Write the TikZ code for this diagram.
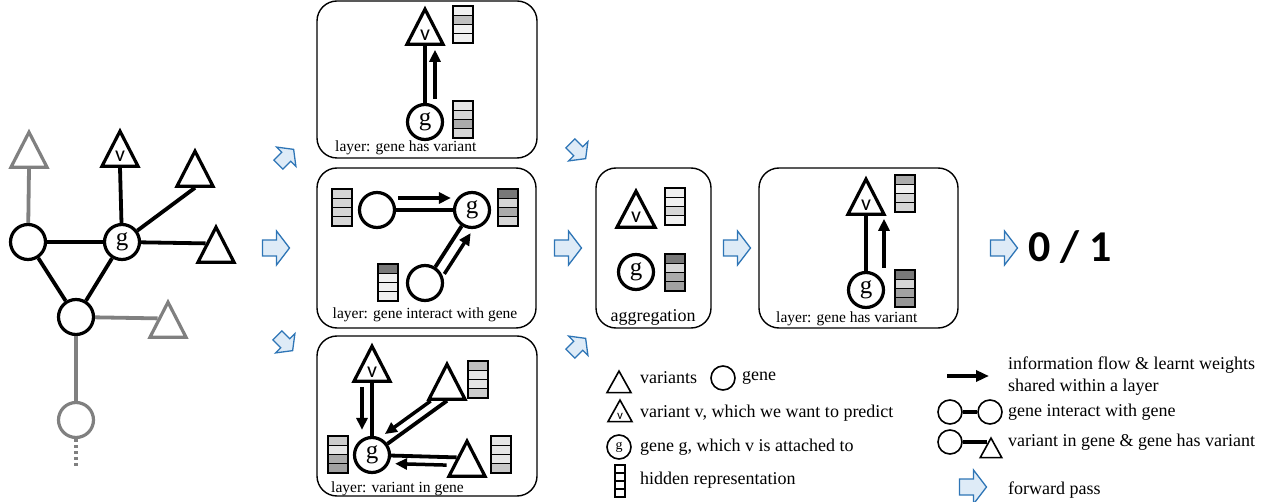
\documentclass[tikz,border=0pt]{standalone}
\usepackage{fontspec}
\setmainfont{Liberation Serif}
\newfontfamily\carlito{Carlito}
\usetikzlibrary{shapes, arrows.meta, calc}

\definecolor{fwdblue}{RGB}{46,117,182}
\definecolor{fwdfill}{RGB}{222,235,247}
\definecolor{linkgray}{RGB}{128,128,128}

\tikzset{
	gene/.style={circle,draw,line width=3.2pt,minimum size=35pt,inner sep=0pt,fill=white,font=\fontsize{25}{25}\selectfont},
	variant/.style={isosceles triangle,isosceles triangle stretches,shape border rotate=90,draw,line width=3.2pt,minimum width=36pt,minimum height=35pt,inner sep=0pt,anchor=apex},
	small/.style={line width=1.6pt,minimum size=20pt,minimum width=24pt,minimum height=21.5pt,font=\fontsize{14}{14}\selectfont},
	vtext/.style={font=\carlito\fontsize{22}{22}\selectfont,inner sep=0pt},
	glink/.style={line width=3.8pt},
	flow/.style={line width=3.5pt,-{Triangle[length=12pt,width=11pt]}},
	cell/.style={draw,line width=1.3pt},
	panel/.style={draw,line width=1.4pt,rounded corners=20pt},
	layer/.style={font=\fontsize{15.5}{15.5}\selectfont,inner sep=0pt},
	legend/.style={font=\fontsize{18}{22}\selectfont,inner sep=0pt,anchor=west,align=left},
	fwdline/.style={draw=fwdblue,fill=fwdfill,line width=1.3pt,line join=miter},
	fwd/.pic={\draw[fwdline] (-13.5,-8) -- (0.5,-8) -- (0.5,-17) -- (13.5,0) -- (0.5,17) -- (0.5,8) -- (-13.5,8) -- cycle;}
}

\newcommand{\hidden}[3]{%
	\foreach \c [count=\i from 0] in {#3}
		\draw[cell,fill=black!\c] (#1,{#2+9.25*\i}) rectangle ++(20,9.25);}

\begin{document}
\begin{tikzpicture}[x=1pt,y=-1pt]
		\useasboundingbox (0,0) rectangle (1276,502);

		% graph
		\node[variant,draw=linkgray] (ta) at (29,128) {};
		\node[variant] (tv) at (120,127) {};
		\node[vtext] (tvl) at ([yshift=12pt]tv.lower side) {v};
		\node[variant] (tb) at (195,147) {};
		\node[variant] (tc) at (216,223) {};
		\node[variant,draw=linkgray] (td) at (168,298) {};
		\node[gene] (c1) at (28,242) {};
		\node[gene] (g0) at (122,242) {g};
		\node[gene] (c2) at (76,317) {};
		\node[gene,draw=linkgray] (c3) at (76,420) {};
		\coordinate (c4) at (76,468);

		\draw[glink,linkgray] (ta.lower side) -- (c1);
		\draw[glink] (tv.lower side) -- (g0);
		\draw[glink] (tb.lower side) -- (g0);
		\draw[glink] (g0) -- (tc.left side);
		\draw[glink] (c1) -- (g0);
		\draw[glink] (c1) -- (c2);
		\draw[glink] (g0) -- (c2);
		\draw[glink,linkgray] (c2) -- (td.left side);
		\draw[glink,linkgray] (c2) -- (c3);
		\draw[glink,linkgray,dash pattern=on 3pt off 3pt] (c3) -- (c4);

		% forward passes
		\pic (f1) at (286,157) [rotate=45,scale=0.8] {fwd};
		\pic (f2) at (276,248) {fwd};
		\pic (f3) at (285,343) [rotate=-45,scale=0.8] {fwd};
		\pic (f4) at (578,151) [rotate=-45,scale=0.8] {fwd};
		\pic (f5) at (568,248) {fwd};
		\pic (f6) at (578,346) [rotate=45,scale=0.8] {fwd};
		\pic (f7) at (737,248) {fwd};
		\pic (f8) at (1004,248) {fwd};

		% layer: gene has variant
		\draw[panel] (317,1) rectangle (537,158);
		\node[variant] (v1) at (425,5) {};
		\node[vtext] (v1l) at ([yshift=11pt]v1.lower side) {v};
		\node[gene] (g1) at (425,122) {g};
		\hidden{453}{6}{6,25,6,6}
		\hidden{453}{101}{10,16,33,16}
		\draw[glink] (g1) -- (v1.lower side);
		\draw[flow,transform canvas={xshift=10pt},shorten <=4pt,shorten >=4pt] (g1) -- (v1.lower side);
		\node[layer,anchor=west] (l1) at (335,148) {layer: gene has variant};

		% layer: gene interact with gene
		\draw[panel] (317,168) rectangle (536,328);
		\node[gene] (c5) at (377,210) {};
		\node[gene] (g2) at (472,210) {g};
		\node[gene] (c6) at (425,283) {};
		\hidden{332}{189}{16,16,16,16}
		\hidden{498}{189}{53,16,33,16}
		\hidden{378}{264}{53,6,6,6}
		\draw[glink] (c5) -- (g2);
		\draw[flow,transform canvas={yshift=12pt},shorten <=2pt,shorten >=2pt] (c5) -- (g2);
		\draw[glink] (c6) -- (g2);
		\draw[flow,transform canvas={xshift=9pt,yshift=-7pt}] (c6) -- (g2);
		\node[layer] (l2) at (425,315) {layer: gene interact with gene};

		% layer: variant in gene
		\draw[panel] (317,336) rectangle (537,496);
		\node[variant] (v3) at (372,342) {};
		\node[vtext] (v3l) at ([yshift=11pt]v3.lower side) {v};
		\node[variant] (t2) at (447,360) {};
		\node[variant] (t3) at (467,437) {};
		\node[gene] (g3) at (372,455) {g};
		\hidden{328}{436}{20,10,33,37}
		\hidden{468}{361}{25,10,10,20}
		\hidden{491}{436}{10,10,10,22}
		\draw[glink] (v3.lower side) -- (g3);
		\draw[flow,transform canvas={xshift=-10pt},shorten <=4pt,shorten >=6pt] (v3.lower side) -- (g3);
		\draw[glink] (t2.lower side) -- (g3);
		\draw[flow,transform canvas={xshift=-5pt,yshift=8pt},shorten <=14pt,shorten >=3pt] (t2.lower side) -- (g3);
		\draw[glink] (t3.left side) -- (g3);
		\draw[flow,transform canvas={yshift=-8pt},shorten <=10pt,shorten >=4pt] (t3.left side) -- (g3);
		\node[layer,anchor=west] (l3) at (331,489) {layer: variant in gene};

		% aggregation
		\draw[panel] (596,168) rectangle (711,328);
		\node[variant,minimum width=38pt,minimum height=36pt] (v4) at (636,187) {};
		\node[vtext] (v4l) at ([yshift=12pt]v4.lower side) {v};
		\node[gene] (g4) at (636,272) {g};
		\hidden{665}{188}{6,6,16,6}
		\hidden{665}{254}{53,16,33,37}
		\node[font=\fontsize{18}{18}\selectfont,inner sep=0pt] (agg) at (653,317) {aggregation};

		% layer: gene has variant (last)
		\draw[panel] (759,168) rectangle (958,328);
		\node[variant] (v5) at (866,175) {};
		\node[vtext] (v5l) at ([yshift=11pt]v5.lower side) {v};
		\node[gene] (g5) at (866,290) {g};
		\hidden{895}{175}{33,6,16,16}
		\hidden{895}{270}{53,16,37,41}
		\draw[glink] (g5) -- (v5.lower side);
		\draw[flow,transform canvas={xshift=18pt},shorten <=3pt,shorten >=3pt] (g5) -- (v5.lower side);
		\node[layer,anchor=west] (l5) at (776,319) {layer: gene has variant};

		\node[font=\carlito\bfseries\fontsize{44}{44}\selectfont,anchor=west,inner sep=0pt] (out) at (1028,247) {0 / 1};

		% legend
		\node[variant,small] (lt1) at (619,369) {};
		\node[legend] (lx1) at (640,378) {variants};
		\node[gene,small] (lc1) at (723,378) {};
		\node[legend] (lx2) at (742,378) {gene};
		\node[variant,small] (lt2) at (620,398) {};
		\node[vtext,font=\carlito\fontsize{13}{13}\selectfont] (lt2l) at ([yshift=6pt]lt2.lower side) {v};
		\node[legend] (lx3) at (640,413) {variant v, which we want to predict};
		\node[gene,small] (lc2) at (619,447) {g};
		\node[legend] (lx4) at (640,447) {gene g, which v is attached to};
		\foreach \i in {0,...,3}
			\draw[cell] (615,{465+8*\i}) rectangle ++(10,8);
		\node[legend] (lx5) at (640,480) {hidden representation};

		\coordinate (la) at (947,376);
		\coordinate (lb) at (989,376);
		\draw[flow,-{Triangle[length=13pt,width=11pt]}] (la) -- (lb);
		\node[legend] (lx6) at (1008,376) {information flow \& learnt weights\\shared within a layer};
		\node[gene,small] (lc3) at (950,412) {};
		\node[gene,small] (lc4) at (990,412) {};
		\draw[glink] (lc3) -- (lc4);
		\node[legend] (lx7) at (1008,412) {gene interact with gene};
		\node[gene,small] (lc5) at (950,442) {};
		\node[variant,small,minimum width=21.5pt,minimum height=19.5pt] (lt3) at (991,436) {};
		\draw[glink,shorten >=-2pt] (lc5.east) -- (lc5.east -| lt3.left side);
		\node[legend] (lx8) at (1008,442) {variant in gene \& gene has variant};
		\pic (f9) at (973,487) {fwd};
		\node[legend] (lx9) at (1008,490) {forward pass};

	\end{tikzpicture}
\end{document}
